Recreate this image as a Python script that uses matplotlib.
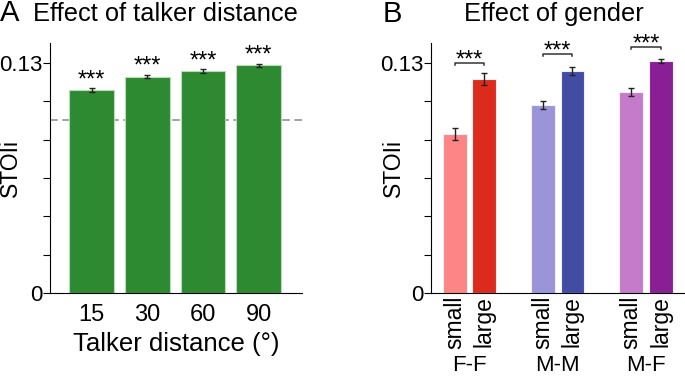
import numpy as np
import matplotlib
matplotlib.use("Agg")
import matplotlib.pyplot as plt

plt.rcParams['font.family'] = ['Liberation Sans', 'DejaVu Sans']

# panel A data
distances = ['15', '30', '60', '90']
dist_mean = [0.1147, 0.1223, 0.1255, 0.1287]
dist_err = [0.0012, 0.0010, 0.0010, 0.0010]
baseline = 0.0976

# panel B data
pairs = ['F-F', 'M-M', 'M-F']
sizes = ['small', 'large']
small_mean = [0.0899, 0.1061, 0.1136]
small_err = [0.0033, 0.0022, 0.0022]
large_mean = [0.1211, 0.1255, 0.1310]
large_err = [0.0033, 0.0022, 0.0010]
bracket_y = [0.1302, 0.1350, 0.1392]
small_cols = ['#fe8585', '#9c94d9', '#c57bc9']
large_cols = ['#dc2b1c', '#424ca5', '#8a1f95']

ytop = 0.1413
yticks = np.arange(7) * 0.13 / 6
ylabels = ['0', '', '', '', '', '', '0.13']

fig = plt.figure(figsize=(6.85, 3.79), dpi=100)

def style_axis(ax):
    ax.spines['top'].set_visible(False)
    ax.spines['right'].set_visible(False)
    ax.set_ylim(0, ytop)
    ax.set_yticks(yticks)
    ax.set_yticklabels(ylabels, fontsize=16)
    ax.tick_params(axis='y', length=5, width=0.8, pad=0.5)
    ax.tick_params(axis='x', length=0)


err_kw = dict(ecolor='#222222', elinewidth=1, capsize=2.5, capthick=1)

# ---- A
axA = fig.add_axes([0.0730, 0.2269, 0.3680, 0.6596])
xa = np.arange(len(distances))
axA.bar(xa, dist_mean, width=0.8, color='#2e8a30', edgecolor='#b9dcb9', linewidth=0.8,
        yerr=dist_err, error_kw=err_kw)
axA.axhline(baseline, color='#888888', ls=(0, (5, 3)), lw=1.1, zorder=0.5)
for x, m in zip(xa, dist_mean):
    axA.text(x, m + 0.0022, '***', ha='center', va='baseline', fontsize=17)
axA.set_xlim(-0.75, 3.78)
style_axis(axA)
axA.set_xticks(xa)
axA.set_xticklabels(distances, fontsize=17)
axA.tick_params(axis='x', pad=8)
axA.set_xlabel('Talker distance (°)', fontsize=18.5, labelpad=4)
axA.set_ylabel('STOIi', fontsize=16.5)
axA.yaxis.set_label_coords(-0.112, 0.5)
fig.text(0.0, 0.965, 'A', fontsize=21, va='center', ha='left')
fig.text(0.241, 0.962, 'Effect of talker distance', fontsize=18.3, va='center', ha='center')

# ---- B
axB = fig.add_axes([0.629, 0.2269, 0.370, 0.6596])
xs = np.arange(len(pairs)) * 3
xl = xs + 1
axB.bar(xs, small_mean, width=0.81, color=small_cols, edgecolor='#f2eef6', linewidth=0.8,
        yerr=small_err, error_kw=err_kw)
axB.bar(xl, large_mean, width=0.81, color=large_cols, edgecolor='#f2eef6', linewidth=0.8,
        yerr=large_err, error_kw=err_kw)
for i in range(len(pairs)):
    y = bracket_y[i]
    axB.plot([xs[i], xs[i], xl[i], xl[i]], [y - 0.0011, y, y, y - 0.0011],
             color='#333333', lw=1.1, clip_on=False)
    axB.text((xs[i] + xl[i]) / 2, y - 0.0020, '***', ha='center', va='baseline',
             fontsize=17, clip_on=False)
axB.set_xlim(-0.81, 7.8)
style_axis(axB)
ticks = np.concatenate([xs, xl])
axB.set_xticks(ticks)
axB.set_xticklabels(sizes[:1] * len(pairs) + sizes[1:] * len(pairs),
                    rotation=90, fontsize=16.5, va='top')
axB.tick_params(axis='x', pad=2)
axB.set_ylabel('STOIi', fontsize=16.5)
axB.yaxis.set_label_coords(-0.102, 0.5)
for i, p in enumerate(pairs):
    axB.text((xs[i] + xl[i]) / 2, -0.0412, p, ha='center', va='center', fontsize=16,
             clip_on=False)
fig.text(0.559, 0.962, 'B', fontsize=21, va='center', ha='left')
fig.text(0.809, 0.962, 'Effect of gender', fontsize=18.3, va='center', ha='center')

fig.savefig('out.png', dpi=100)
